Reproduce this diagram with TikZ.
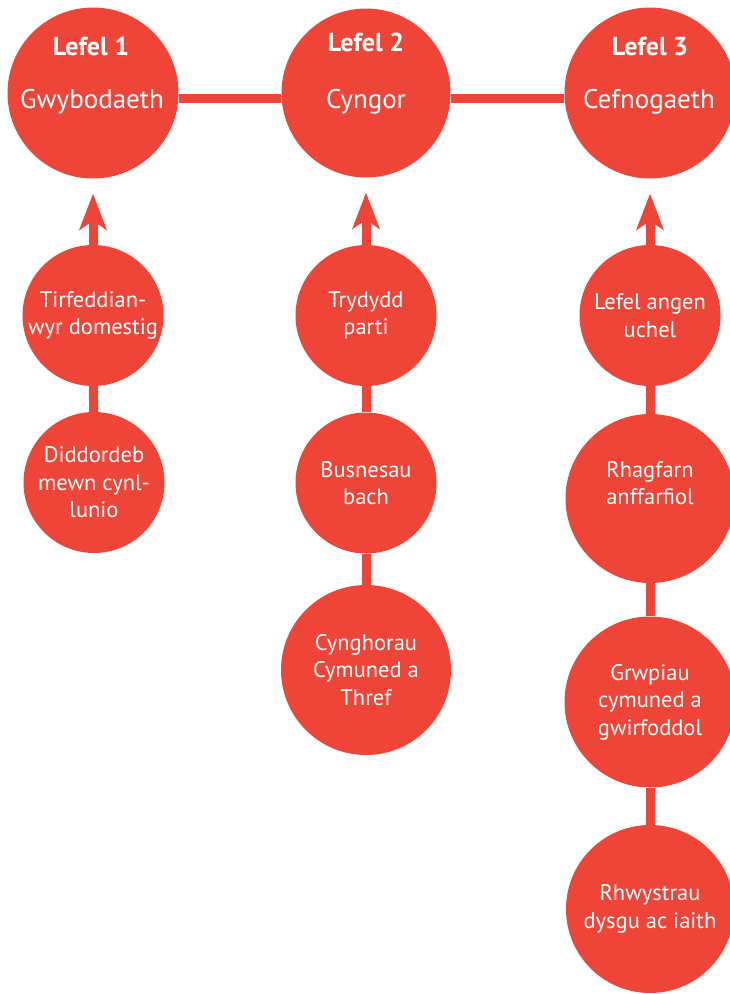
\documentclass[tikz,border=0pt]{standalone}
\usepackage{fontspec}
\setmainfont{PT Sans}
\usepackage{tikz}
\usetikzlibrary{arrows.meta}
\definecolor{lred}{HTML}{EF4438}

\begin{document}
\begin{tikzpicture}[x=1pt, y=-1pt,
		dot/.style={circle, fill=lred, inner sep=0pt, minimum size=#1, text=white, align=center,
			font=\fontsize{22.5}{27.5}\selectfont},
		head/.style={text=white, font=\fontsize{27}{30}\selectfont},
		link/.style={draw=lred, line width=9pt},
		arr/.style={link, shorten >=15pt, -{Stealth[length=36pt, width=27pt, inset=9pt]}}]
			\useasboundingbox (0,0) rectangle (730,994);
			% top row
			\node[dot=171] (l1) at (93,93) {};
			\node[dot=169] (l2) at (366,93) {};
			\node[dot=171] (l3) at (650,93) {};
			\node[head, font=\fontsize{26}{30}\bfseries] (l1-lvl) at (91,46) {Lefel 1};
			\node[head, font=\fontsize{26}{30}\bfseries] (l2-lvl) at (366,42) {Lefel 2};
			\node[head, font=\fontsize{26}{30}\bfseries] (l3-lvl) at (650,46) {Lefel 3};
			\node[head] (l1-name) at (92,102) {Gwybodaeth};
			\node[head] (l2-name) at (366,102) {Cyngor};
			\node[head] (l3-name) at (649,102) {Cefnogaeth};
			\draw[link] ([yshift=-5pt]l1.east) -- ([yshift=-5pt]l2.west);
			\draw[link] ([yshift=-5pt]l2.east) -- ([yshift=-5pt]l3.west);
			% column 1
			\node[dot=141] (c1a) at (93,315.5) {Tirfeddian-\\wyr domestig};
			\node[dot=141] (c1b) at (94,482.5) {Diddordeb\\mewn cynl-\\lunio};
			% column 2
			\node[dot=141] (c2a) at (366,315.5) {Trydydd\\parti};
			\node[dot=141] (c2b) at (366,483) {Busnesau\\bach};
			\node[dot=170] (c2c) at (366,670) {Cynghorau\\Cymuned a\\Thref};
			% column 3
			\node[dot=141] (c3a) at (650,315.5) {Lefel angen\\uchel};
			\node[dot=169] (c3b) at (650,498.5) {};
			\node[head, font=\fontsize{22.5}{27.5}\selectfont, align=center] (c3b-t) at (650,483) {Rhagfarn\\anffarfiol};
			\node[dot=171] (c3c) at (650,702) {Grwpiau\\cymuned a\\gwirfoddol};
			\node[dot=168] (c3d) at (650,909) {Rhwystrau\\dysgu ac iaith};
			% connectors
			\draw[arr] (c1a) -- (l1);
			\draw[arr] (c2a) -- (l2);
			\draw[arr] (c3a) -- (l3);
			\draw[link] (c1a) -- (c1b);
			\draw[link] (c2a) -- (c2b);
			\draw[link] (c2b) -- (c2c);
			\draw[link] (c3a) -- (c3b);
			\draw[link] (c3b) -- (c3c);
			\draw[link] (c3c) -- (c3d);
		\end{tikzpicture}
\end{document}
